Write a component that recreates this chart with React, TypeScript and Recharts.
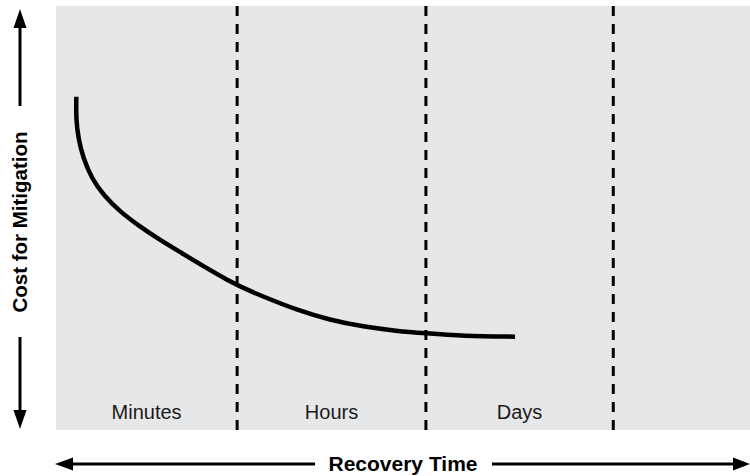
import React from 'react';
import { LineChart, Line, XAxis, YAxis, CartesianGrid, ReferenceLine, ReferenceArea, Label } from 'recharts';

// x: recovery time (0-100 across the plot), y: cost (0-100)
const curveTime = [2.93, 2.88, 3.21, 3.93, 5.14, 6.82, 9.22, 12.1, 14.99, 17.39, 25.07, 29.87, 34.68, 39.48, 44.28, 49.09, 53.17, 58.69, 66.14];
const curveCost = [78.61, 73.51, 68.8, 64.08, 59.36, 55.42, 51.49, 47.95, 44.81, 42.45, 34.8, 31.44, 28.3, 25.94, 24.36, 23.35, 22.81, 22.17, 22.0];

const bandNames = ['Minutes', 'Hours', 'Days'];
const bandEdges = [0, 26.1, 53.3, 80.3];

const data = curveTime.map((t, i) => ({ t, cost: curveCost[i] }));

const FONT = '"Liberation Sans", Arial, Helvetica, sans-serif';

const App: React.FC = () => {
  return (
    <div style={{ position: 'relative', width: 750, height: 476, fontFamily: FONT }}>
      <style>{'body{margin:0}'}</style>
      <LineChart width={750} height={476} data={data} margin={{ top: 6, right: 0, left: 56, bottom: 46 }}>
        <CartesianGrid fill="#e6e7e8" stroke="none" horizontal={false} vertical={false} />
        <XAxis type="number" dataKey="t" domain={[0, 100]} hide allowDataOverflow />
        <YAxis type="number" domain={[0, 100]} hide allowDataOverflow />
        {bandNames.map((name, i) => (
          <ReferenceArea
            key={name}
            x1={bandEdges[i]}
            x2={bandEdges[i + 1]}
            y1={0}
            y2={100}
            fill="none"
            fillOpacity={0}
            stroke="none"
            ifOverflow="visible"
          >
            <Label value={name} position="insideBottom" offset={11} fill="#1a1a1a" fontSize={20} fontFamily={FONT} />
          </ReferenceArea>
        ))}
        {bandEdges.slice(1).map((x) => (
          <ReferenceLine key={x} x={x} stroke="#000" strokeWidth={3} strokeDasharray="10 8" />
        ))}
        <Line
          type="basis"
          dataKey="cost"
          stroke="#000"
          strokeWidth={4.5}
          dot={false}
          activeDot={false}
          isAnimationActive={false}
        />
      </LineChart>
      <svg width={750} height={476} style={{ position: 'absolute', left: 0, top: 0, pointerEvents: 'none' }}>
        {/* y axis arrow */}
        <line x1={20} y1={26} x2={20} y2={106} stroke="#000" strokeWidth={3} />
        <polygon points="20,9 13.5,28 26.5,28" fill="#000" />
        <line x1={20} y1={337} x2={20} y2={412} stroke="#000" strokeWidth={3} />
        <polygon points="20,429 13.5,410 26.5,410" fill="#000" />
        <text
          transform="translate(27,222) rotate(-90)"
          textAnchor="middle"
          fontSize={20.5}
          fontWeight="bold"
          fontFamily={FONT}
          fill="#000"
        >
          Cost for Mitigation
        </text>
        {/* x axis arrow */}
        <line x1={71} y1={464} x2={315} y2={464} stroke="#000" strokeWidth={3} />
        <polygon points="55,464 73,457.5 73,470.5" fill="#000" />
        <line x1={492} y1={464} x2={735} y2={464} stroke="#000" strokeWidth={3} />
        <polygon points="750,464 733,457.5 733,470.5" fill="#000" />
        <text x={403} y={471} textAnchor="middle" fontSize={21} fontWeight="bold" fontFamily={FONT} fill="#000">
          Recovery Time
        </text>
      </svg>
    </div>
  );
};

export default App;
